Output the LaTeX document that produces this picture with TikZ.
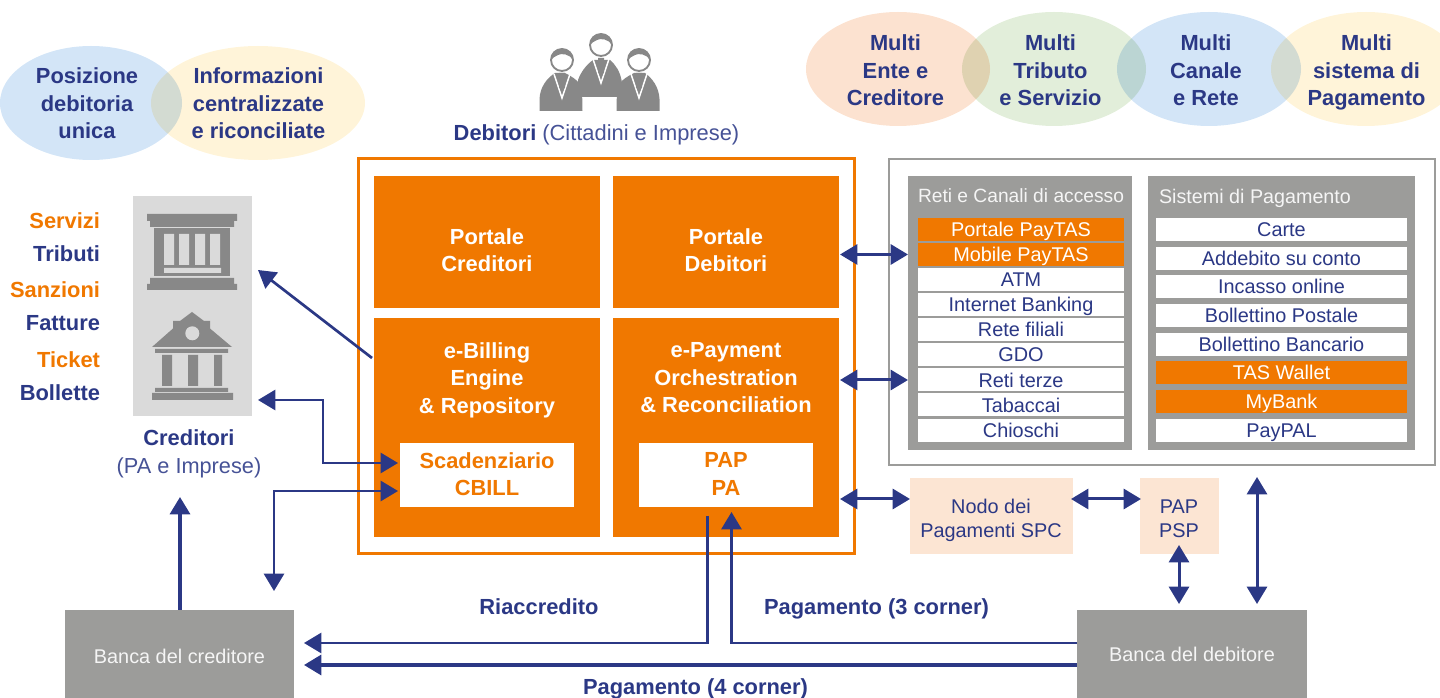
\documentclass[tikz,border=0pt]{standalone}
\usepackage{fontspec}
\setmainfont{Liberation Sans}
\usetikzlibrary{arrows.meta,shapes.geometric}

\definecolor{navy}{RGB}{43,56,133}
\definecolor{lightnavy}{RGB}{70,82,150}
\definecolor{tasorange}{RGB}{240,120,0}
\definecolor{panelgray}{RGB}{156,156,154}
\definecolor{icongray}{RGB}{136,136,136}
\definecolor{bankbg}{RGB}{218,218,218}
\definecolor{peach}{RGB}{252,229,211}
\definecolor{softblue}{RGB}{211,229,247}
\definecolor{softyellow}{RGB}{255,244,217}
\definecolor{softgreen}{RGB}{226,238,218}
\definecolor{softpeach}{RGB}{252,226,208}

\tikzset{every picture/.style={line width=0.75pt},
  wh/.style 2 args={minimum width=#1*0.75pt,minimum height=#2*0.75pt},
  bigbold/.style={font=\fontsize{16.4}{20.6}\selectfont\bfseries},
  plain/.style={font=\fontsize{14.9}{18}\selectfont},
  flat/.style={inner sep=0pt,outer sep=0pt,align=center},
  bubble/.style={flat,ellipse,blend mode=multiply},
  bubbletext/.style={flat,bigbold,text=navy},
  orangebox/.style={flat,rectangle,fill=tasorange},
  orangetext/.style={flat,bigbold,text=white},
  whitebox/.style={flat,rectangle,fill=white,bigbold,text=tasorange},
  panel/.style={flat,rectangle,fill=panelgray},
  rowwhite/.style={flat,rectangle,fill=white,plain,text=navy,text height=11.5pt,text depth=0.8pt},
  roworange/.style={flat,rectangle,fill=tasorange,plain,text=white,text height=11.5pt,text depth=0.8pt},
  peachbox/.style={flat,rectangle,fill=peach},
  peachtext/.style={flat,plain,text=navy},
  bankbox/.style={flat,rectangle,fill=panelgray,plain,text=white!90!panelgray},
  arr/.style={draw=navy,line width=3.3pt*0.75,-{Triangle[length=13pt,width=15pt]}},
  biarr/.style={draw=navy,line width=3pt*0.75,{Triangle[length=13pt,width=15pt]}-{Triangle[length=13pt,width=15pt]}},
  thinbiarr/.style={draw=navy,line width=2.7pt*0.75,{Triangle[length=13pt,width=15pt]}-{Triangle[length=13pt,width=15pt]}},
  thinarr/.style={draw=navy,line width=2.7pt*0.75,-{Triangle[length=13pt,width=15pt]}},
  icon/.style={fill=icongray,draw=none},
}

\begin{document}
\begin{tikzpicture}[x=0.75pt,y=0.75pt,yscale=-1,xscale=1]
\useasboundingbox (0,0) rectangle (1440,698);

%Shape: Bubbles top left
\node [bubble,fill=softblue,wh={182}{114}] (posizione) at (91,103) {};
\node [bubble,fill=softyellow,wh={214}{114}] (informazioni) at (258,103) {};
%Shape: Bubbles top right
\node [bubble,fill=softpeach,wh={184}{114}] (multiente) at (898,69) {};
\node [bubble,fill=softgreen,wh={184}{114}] (multitributo) at (1054,69) {};
\node [bubble,fill=softblue,wh={184}{114}] (multicanale) at (1209,69) {};
\node [bubble,fill=softyellow,wh={190}{114}] (multisistema) at (1366,69) {};
% Text Node
\node [bubbletext] (posizionetxt) at (87,103.5) {Posizione\\debitoria\\unica};
\node [bubbletext] (informazionitxt) at (258.5,103.5) {Informazioni\\centralizzate\\e riconciliate};
\node [bubbletext] (multientetxt) at (895.5,70.5) {Multi\\Ente e\\Creditore};
\node [bubbletext] (multitributotxt) at (1050.5,70.5) {Multi\\Tributo\\e Servizio};
\node [bubbletext] (multicanaletxt) at (1206,70.5) {Multi\\Canale\\e Rete};
\node [bubbletext] (multisistematxt) at (1366.5,72.5) {Multi\\sistema di\\Pagamento};

%Shape: People icon
\fill [icon] (539.5,111) -- (539.5,99) .. controls (540,87) and (547,78) .. (555,73) -- (565,73) .. controls (571,76) and (576,79) .. (582,86) -- (582.5,111) -- cycle ;
\fill [icon] (659.5,111) -- (659.5,99) .. controls (659,87) and (652,78) .. (645,73) -- (634,73) .. controls (628,76) and (623,79) .. (617,86) -- (616.5,111) -- cycle ;
\fill [icon] (578,97) -- (578,80) .. controls (581,72) and (586,65) .. (593,60) -- (610,60) .. controls (616,65) and (620,72) .. (621.5,80) -- (621.5,97) -- cycle ;
\foreach \hx/\hy in {562/60,601/45,639/60} {
  \draw [white,line width=1.1pt] (\hx-8,\hy+14) -- (\hx,\hy+38) -- (\hx+8,\hy+14) ;
  \fill [icon] (\hx-3,\hy+13) -- (\hx+3,\hy+13) -- (\hx+3,\hy+27) -- (\hx,\hy+33) -- (\hx-3,\hy+27) -- cycle ;
  \draw [fill=white,draw=icongray,line width=1.4pt] (\hx,\hy) circle [radius=11] ;
  \fill [icon] (\hx-11,\hy) .. controls (\hx-11.5,\hy-15) and (\hx+11.5,\hy-15) .. (\hx+11,\hy) .. controls (\hx+8,\hy-6) and (\hx-1,\hy-7) .. (\hx-4,\hy-5) .. controls (\hx-7,\hy-4) and (\hx-9,\hy-2) .. (\hx-11,\hy) -- cycle ;
}
% Text Node
\node [flat,font=\fontsize{16.4}{20}\selectfont,text=lightnavy] (debitori) at (596.5,135) {\textcolor{navy}{\bfseries Debitori} (Cittadini e Imprese)};

%Shape: Main frame
\node [flat,draw=tasorange,line width=1.9pt,wh={496}{395}] (mainframe) at (606.5,356) {};
\node [orangebox,wh={226}{132}] (portalecred) at (487,242) {};
\node [orangebox,wh={226}{132}] (portaledeb) at (726,242) {};
\node [orangebox,wh={226}{219}] (ebilling) at (487,427.5) {};
\node [orangebox,wh={226}{219}] (epayment) at (726,427.5) {};
\node [orangetext] (portalecredtxt) at (487,250) {Portale\\Creditori};
\node [orangetext] (portaledebtxt) at (726,250) {Portale\\Debitori};
\node [orangetext] (ebillingtxt) at (487,380) {e-Billing\\Engine\\\& Repository};
\node [orangetext] (epaymenttxt) at (726,378) {e-Payment\\Orchestration\\\& Reconciliation};
\node [whitebox,wh={174}{64}] (scadenziario) at (487,475) {};
\node [whitebox,wh={174}{64}] (pappa) at (726,475) {};
\node [flat,bigbold,text=tasorange] (scadenziariotxt) at (487,474) {Scadenziario\\CBILL};
\node [flat,bigbold,text=tasorange] (pappatxt) at (726,474) {PAP\\PA};

%Shape: Right frame
\node [flat,draw=panelgray,line width=2.2pt,wh={546}{306}] (rightframe) at (1162,312) {};
\node [panel,wh={224}{274}] (reti) at (1020,313) {};
\node [panel,wh={267}{274}] (sistemi) at (1281.5,313) {};
\node [flat,font=\fontsize{14.4}{18}\selectfont,text=white!90!panelgray,anchor=west] (retititle) at (918,196) {Reti e Canali di accesso};
\node [flat,font=\fontsize{14.8}{18}\selectfont,text=white!90!panelgray,anchor=west] (sistemititle) at (1159,198) {Sistemi di Pagamento};

\node [roworange,wh={206}{23}] (r1) at (1021,229.5) {Portale PayTAS};
\node [roworange,wh={206}{23}] (r2) at (1021,254.5) {Mobile PayTAS};
\node [rowwhite,wh={206}{23}] (r3) at (1021,279.5) {ATM};
\node [rowwhite,wh={206}{23}] (r4) at (1021,304.5) {Internet Banking};
\node [rowwhite,wh={206}{23}] (r5) at (1021,329.5) {Rete filiali};
\node [rowwhite,wh={206}{23}] (r6) at (1021,354.5) {GDO};
\node [rowwhite,wh={206}{23}] (r7) at (1021,380) {Reti terze};
\node [rowwhite,wh={206}{23}] (r8) at (1021,405) {Tabaccai};
\node [rowwhite,wh={206}{23}] (r9) at (1021,430.5) {Chioschi};

\node [rowwhite,wh={251}{23}] (s1) at (1281.5,229.5) {Carte};
\node [rowwhite,wh={251}{23}] (s2) at (1281.5,258.5) {Addebito su conto};
\node [rowwhite,wh={251}{23}] (s3) at (1281.5,286.5) {Incasso online};
\node [rowwhite,wh={251}{23}] (s4) at (1281.5,315.5) {Bollettino Postale};
\node [rowwhite,wh={251}{23}] (s5) at (1281.5,344.5) {Bollettino Bancario};
\node [roworange,wh={251}{23}] (s6) at (1281.5,372.5) {TAS Wallet};
\node [roworange,wh={251}{23}] (s7) at (1281.5,401.5) {MyBank};
\node [rowwhite,wh={251}{23}] (s8) at (1281.5,430.5) {PayPAL};

%Shape: Lower boxes
\node [peachbox,wh={163}{76}] (nodo) at (991.5,516) {};
\node [peachbox,wh={79}{76}] (pappsp) at (1179,516) {};
\node [peachtext] (nodotxt) at (991,520.5) {Nodo dei\\Pagamenti SPC};
\node [peachtext] (pappsptxt) at (1179,518.5) {PAP\\PSP};
\node [bankbox,wh={229}{92}] (bancacred) at (179.5,656) {Banca del creditore};
\node [bankbox,wh={230}{88}] (bancadeb) at (1192,654) {Banca del debitore};

%Shape: Creditori background and bank icons
\node [flat,fill=bankbg,wh={119}{220}] (creditoribg) at (192.5,306) {};
\fill [icon] (147,214) rectangle (237,221) (150,221) rectangle (234,227) (150,278) rectangle (234,284) (147,284) rectangle (237,290) ;
\fill [icon] (154,228) rectangle (230,276) ;
\fill [bankbg] (164,234) rectangle (174,265) (179,234) rectangle (189,265) (195,234) rectangle (205,265) (210,234) rectangle (220,265) (164,268) rectangle (221,273) ;
\fill [icon] (192,312) -- (204,321) -- (210,321) -- (210,328.5) -- (232,347) -- (152,347) -- (173,328.5) -- (173,321) -- (180,321) -- cycle ;
\fill [bankbg] (192.3,333.3) circle [radius=7] ;
\fill [icon] (155,349) rectangle (228,353) (162,355) rectangle (172,386) (188,355) rectangle (198,386) (214,355) rectangle (222,386) (155,388) rectangle (228,392) (152,393) rectangle (233,400) ;

% Text Node
\node [flat,bigbold,text=navy] (creditori) at (189,438) {Creditori};
\node [flat,font=\fontsize{16.3}{20}\selectfont,text=lightnavy] (paimprese) at (189,468) {(PA e Imprese)};
\node [flat,bigbold,text=tasorange,anchor=east] (servizi) at (100,221) {Servizi};
\node [flat,bigbold,text=navy,anchor=east] (tributi) at (100,254) {Tributi};
\node [flat,bigbold,text=tasorange,anchor=east] (sanzioni) at (100,290) {Sanzioni};
\node [flat,bigbold,text=navy,anchor=east] (fatture) at (100,323) {Fatture};
\node [flat,bigbold,text=tasorange,anchor=east] (ticket) at (100,360) {Ticket};
\node [flat,bigbold,text=navy,anchor=east] (bollette) at (100,393) {Bollette};
\node [flat,bigbold,text=navy] (riaccredito) at (539,607) {Riaccredito};
\node [flat,bigbold,text=navy] (pag3) at (876.5,609) {Pagamento (3 corner)};
\node [flat,bigbold,text=navy] (pag4) at (695.5,689) {Pagamento (4 corner)};

%Coordinates: free ends of the connectors
\coordinate (bankend1) at (258,270);
\coordinate (billstart) at (372,358);
\coordinate (bankend2) at (258,400);
\coordinate (elbow1) at (323,400);
\coordinate (elbow2) at (323,463);
\coordinate (scadin1) at (398,463);
\coordinate (scadin2) at (398,491);
\coordinate (elbow3) at (274,491);
\coordinate (freedown) at (274,591);
\coordinate (bankbottom) at (180,497);
\coordinate (riacstart) at (707.5,516);
\coordinate (riacelbow) at (707.5,643);
\coordinate (riacend) at (304,643);
\coordinate (pag3elbow) at (731.5,643);
\coordinate (pag3end) at (731.5,512);
\coordinate (pag4end) at (304,665);
\coordinate (frameright) at (840,499);
\coordinate (nodoleft) at (910,499);
\coordinate (nodoright) at (1071,499);
\coordinate (papleft) at (1141,499);
\coordinate (rightbottom) at (1257,477);
\coordinate (debtop) at (1257,604);
\coordinate (papbottom) at (1179,545);
\coordinate (debtop2) at (1179,604);
\coordinate (portaleout) at (840,254.5);
\coordinate (paymentout) at (840,380);

%Straight Lines
\draw [thinarr] (billstart) -- (bankend1) ;
\draw [thinbiarr] (bankend2) -- (elbow1) -- (elbow2) -- (scadin1) ;
\draw [thinbiarr] (freedown) -- (elbow3) -- (scadin2) ;
\draw [arr] (bancacred.north -| bankbottom) -- (bankbottom) ;
\draw [biarr] (portaleout) -- (r2.west -| reti.west) ;
\draw [biarr] (paymentout) -- (r7.west -| reti.west) ;
\draw [biarr] (frameright) -- (nodoleft) ;
\draw [biarr] (nodoright) -- (papleft) ;
\draw [biarr] (papbottom) -- (debtop2) ;
\draw [biarr] (rightbottom) -- (debtop) ;
\draw [thinarr] (riacstart) -- (riacelbow) -- (riacend) ;
\draw [thinarr] (bancadeb.west |- pag3elbow) -- (pag3elbow) -- (pag3end) ;
\draw [arr] (bancadeb.west |- pag4end) -- (pag4end) ;

\end{tikzpicture}
\end{document}
